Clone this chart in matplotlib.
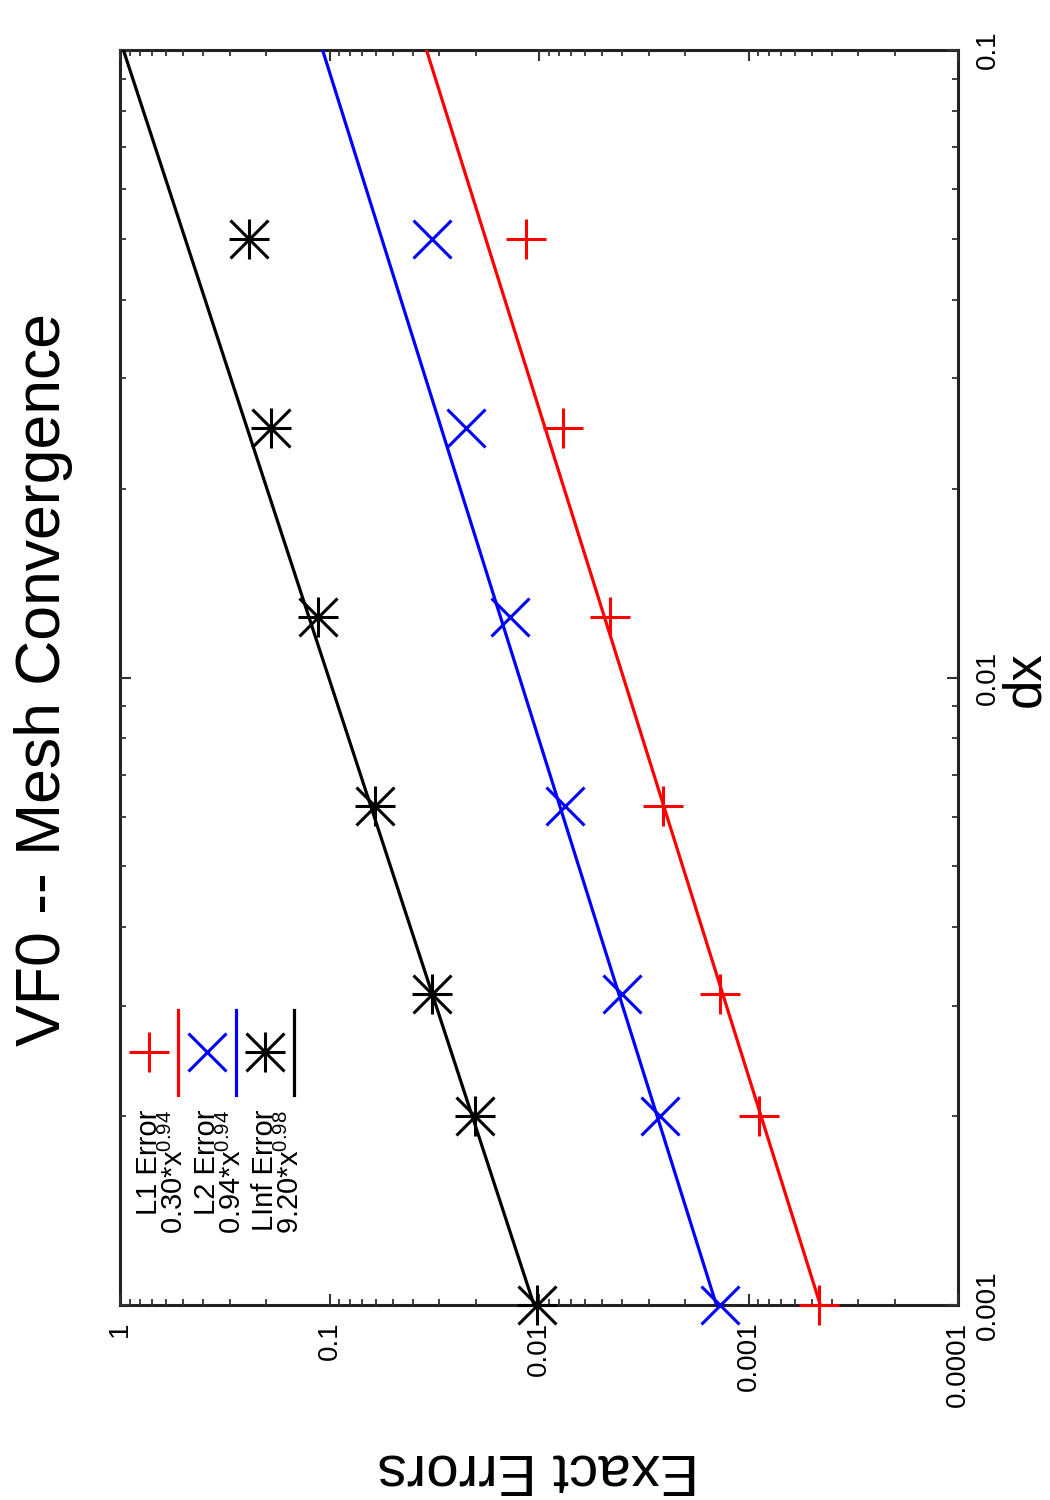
import numpy as np
import matplotlib
matplotlib.use("Agg")
import matplotlib.pyplot as plt
from matplotlib.ticker import FixedLocator, LogLocator, NullFormatter

plt.rcParams['font.family'] = ['Liberation Sans', 'DejaVu Sans']
plt.rcParams['mathtext.default'] = 'regular'

# mesh spacing
dx = [0.001, 0.002, 0.003125, 0.00625, 0.0125, 0.025, 0.05]

# measured errors
l1_err = [4.61e-4, 8.91e-4, 1.37e-3, 2.56e-3, 4.58e-3, 7.68e-3, 1.153e-2]
l2_err = [1.37e-3, 2.64e-3, 4.02e-3, 7.52e-3, 1.38e-2, 2.23e-2, 3.24e-2]
linf_err = [1.02e-2, 2.02e-2, 3.24e-2, 6.07e-2, 0.1135, 0.190, 0.242]

# power law fits  c * dx^p
fit_coef = [0.30, 0.94, 9.20]
fit_pow = [0.94, 0.94, 0.98]
fit_labels = ['0.30*x$^{0.94}$', '0.94*x$^{0.94}$', '9.20*x$^{0.98}$']
err_labels = ['L1 Error', 'L2 Error', 'LInf Error']
colors = ['red', 'blue', 'black']

err_ticks = [1, 0.1, 0.01, 0.001, 0.0001]
err_ticklabels = ['1', '0.1', '0.01', '0.001', '0.0001']
dx_ticks = [0.001, 0.01, 0.1]
dx_ticklabels = ['0.001', '0.01', '0.1']

fig = plt.figure(figsize=(10.5, 15), dpi=100)
# the whole gnuplot page is turned by 90 degrees: errors run along x, dx along y
ax = fig.add_axes([120/1050, 195/1500, 838/1050, 1255/1500])
ax.set_xscale('log')
ax.set_yscale('log')

dx_line = np.array([0.001, 0.1])
ms = 29
mew = 2.2
for i, err in enumerate([l1_err, l2_err, linf_err]):
    c = colors[i]
    fit = fit_coef[i] * dx_line ** fit_pow[i]
    ax.plot(fit, dx_line, color=c, lw=2.3, zorder=2)
    if i == 0:
        ax.plot(err, dx, ls='none', marker='+', ms=ms, mew=mew, color=c, zorder=3, clip_on=False)
    elif i == 1:
        ax.plot(err, dx, ls='none', marker='x', ms=ms-2, mew=mew, color=c, zorder=3, clip_on=False)
    else:
        # gnuplot star = plus over cross
        ax.plot(err, dx, ls='none', marker='+', ms=ms, mew=mew, color=c, zorder=3, clip_on=False)
        ax.plot(err, dx, ls='none', marker='x', ms=ms-2, mew=mew, color=c, zorder=3, clip_on=False)

ax.set_xlim(1, 1e-4)
ax.set_ylim(1e-3, 0.1)

ax.xaxis.set_major_locator(FixedLocator(err_ticks))
ax.set_xticklabels(err_ticklabels)
ax.xaxis.set_minor_locator(LogLocator(base=10, subs=np.arange(2, 10)))
ax.xaxis.set_minor_formatter(NullFormatter())
ax.yaxis.set_major_locator(FixedLocator(dx_ticks))
ax.set_yticklabels(dx_ticklabels)
ax.yaxis.set_minor_locator(LogLocator(base=10, subs=np.arange(2, 10)))
ax.yaxis.set_minor_formatter(NullFormatter())

ax.tick_params(which='both', direction='in', top=True, bottom=True, left=True, right=True,
               color='#333333', labelleft=False, labelright=True, labelsize=20, pad=12)
ax.tick_params(which='major', length=8, width=1.5)
ax.tick_params(which='minor', length=4, width=1.3)
for lab in ax.get_xticklabels():
    lab.set_rotation(90)
    lab.set_va('top')
    lab.set_ha('center')
for lab in ax.get_yticklabels():
    lab.set_rotation(90)
    lab.set_va('center')
    lab.set_ha('left')
for sp in ax.spines.values():
    sp.set_linewidth(2.2)
    sp.set_color('#222222')
    sp.set_zorder(1)

# key, drawn by hand because it is turned too
row_x = [0.0346, 0.0692, 0.1038, 0.1384, 0.173, 0.2076]
text_end = 0.1554
for i in range(3):
    xm = row_x[2*i]
    xl = row_x[2*i + 1]
    c = colors[i]
    ax.text(xm, text_end, err_labels[i], rotation=90, ha='center', va='top',
            fontsize=21, transform=ax.transAxes)
    ax.text(xl - 0.004, text_end, fit_labels[i], rotation=90, ha='center', va='top',
            fontsize=21, transform=ax.transAxes)
    if i == 0:
        ax.plot([xm], [0.2016], marker='+', ms=ms, mew=mew, color=c, transform=ax.transAxes)
    elif i == 1:
        ax.plot([xm], [0.2016], marker='x', ms=ms-2, mew=mew, color=c, transform=ax.transAxes)
    else:
        ax.plot([xm], [0.2016], marker='+', ms=ms, mew=mew, color=c, transform=ax.transAxes)
        ax.plot([xm], [0.2016], marker='x', ms=ms-2, mew=mew, color=c, transform=ax.transAxes)
    ax.plot([xl, xl], [0.167, 0.235], color=c, lw=2.3, transform=ax.transAxes)

fig.text(0.041, 0.547, 'VF0 -- Mesh Convergence', rotation=90, fontsize=45,
         ha='center', va='center')
fig.text(1000/1050, 0.547, 'dx', rotation=90, fontsize=38, ha='left', va='center')
fig.text(538/1050, 1 - 1470/1500, 'Exact Errors', rotation=180, fontsize=42,
         ha='center', va='center')

fig.savefig('out.png', dpi=100)
